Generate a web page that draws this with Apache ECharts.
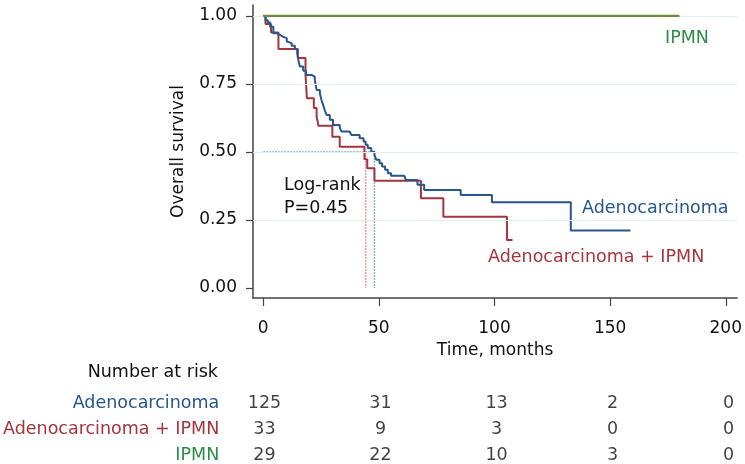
<!DOCTYPE html>
<html><head><meta charset="utf-8">
<script src="https://cdn.jsdelivr.net/npm/echarts@6/dist/echarts.min.js"></script>
<style>html,body{margin:0;padding:0;background:#fff}#c{width:745px;height:464px}</style>
</head><body><div id="c"></div>
<script>
// Kaplan-Meier step points [month, survival]
const adenoKM = [[0,1.000],[1.0,0.984],[2.0,0.976],[3.0,0.960],[4.4,0.936],[5.9,0.930],[7.3,0.924],[8.5,0.918],[10.2,0.906],[10.9,0.900],[12.3,0.890],[13.7,0.878],[14.7,0.863],[15.2,0.838],[15.9,0.814],[17.3,0.798],[18.5,0.783],[20.9,0.777],[22.3,0.765],[23.1,0.728],[24.5,0.716],[25.2,0.691],[25.9,0.673],[26.6,0.654],[27.4,0.636],[28.8,0.618],[30.2,0.599],[33.1,0.590],[33.8,0.575],[37.4,0.569],[38.1,0.5625],[41.7,0.550],[43.4,0.538],[44.3,0.526],[45.2,0.514],[46.7,0.501],[48.1,0.489],[48.9,0.471],[50.3,0.458],[51.4,0.446],[52.7,0.434],[53.9,0.422],[55.3,0.412],[61.0,0.406],[61.7,0.397],[66.7,0.379],[69.6,0.360],[85.4,0.342],[98.9,0.315],[133.0,0.211],[158.8,0.211]];
const adenoIpmnKM = [[0,1.000],[1.0,0.970],[3.4,0.939],[6.6,0.878],[15.0,0.845],[18.3,0.783],[18.9,0.697],[21.9,0.661],[23.1,0.630],[23.9,0.596],[29.9,0.556],[33.1,0.519],[43.8,0.473],[45.0,0.440],[48.1,0.394],[68.2,0.330],[77.9,0.262],[105.4,0.176],[107.8,0.176]];
const ipmnKM = [[0,1.000],[180,1.000]];
const medianAdeno = 48.1;
const medianAdenoIpmn = 44.3;
const yTicks = [0, 0.25, 0.5, 0.75, 1];
const xTicks = [0, 50, 100, 150, 200];
const riskRows = ['Adenocarcinoma', 'Adenocarcinoma + IPMN', 'IPMN'];
const riskAdeno = [125, 31, 13, 2, 0];
const riskAdenoIpmn = [33, 9, 3, 0, 0];
const riskIpmn = [29, 22, 10, 3, 0];

const FONT = 'DejaVu Sans';
const BLUE = '#27568f', RED = '#a5343e', GREEN_LINE = '#6b8e3c', GREEN_TEXT = '#2e8b47';
const rowColors = [BLUE, RED, GREEN_TEXT];

const chart = echarts.init(document.getElementById('c'), null, {renderer: 'canvas'});
const XMIN = -4.4, XMAX = 204.9;

function riskSeries(vals, row) {
  return {
    type: 'scatter', xAxisIndex: 1, yAxisIndex: 1, symbolSize: 0, silent: true,
    data: xTicks.map((t, i) => [t, row, vals[i]]),
    label: {show: true, position: 'inside', formatter: p => String(p.value[2]),
      color: '#111', fontFamily: FONT, fontSize: 17.5}
  };
}

chart.setOption({
  animation: false,
  backgroundColor: '#fff',
  grid: [
    {left: 253, right: 5, top: 5, bottom: 166},
    {left: 253, right: 5, top: 403, height: 52}
  ],
  xAxis: [
    {type: 'value', gridIndex: 0, min: XMIN, max: XMAX,
     axisLine: {show: true, onZero: false, lineStyle: {color: '#444', width: 1.5}},
     axisTick: {show: true, length: 8, customValues: xTicks, lineStyle: {color: '#444', width: 1.2}},
     axisLabel: {show: true, customValues: xTicks, margin: 22, color: '#111', fontFamily: FONT, fontSize: 17},
     splitLine: {show: false},
     name: 'Time, months', nameLocation: 'middle', nameGap: 44,
     nameTextStyle: {color: '#111', fontFamily: FONT, fontSize: 17}},
    {type: 'value', gridIndex: 1, min: XMIN, max: XMAX, show: false}
  ],
  yAxis: [
    {type: 'value', gridIndex: 0, min: -0.037, max: 1.04,
     axisLine: {show: true, onZero: false, lineStyle: {color: '#444', width: 1.5}},
     axisTick: {show: true, length: 7, customValues: yTicks, lineStyle: {color: '#444', width: 1.2}},
     axisLabel: {show: true, customValues: yTicks, margin: 16, formatter: v => Number(v).toFixed(2),
       color: '#111', fontFamily: FONT, fontSize: 17},
     splitLine: {show: false},
     name: 'Overall survival', nameLocation: 'middle', nameGap: 66, nameRotate: 90,
     nameTextStyle: {color: '#111', fontFamily: FONT, fontSize: 17}},
    {type: 'value', gridIndex: 1, min: 0, max: 2, interval: 1, inverse: true,
     axisLine: {show: false}, axisTick: {show: false}, splitLine: {show: false},
     axisLabel: {show: true, margin: 35, fontFamily: FONT, fontSize: 17.5,
       formatter: v => '{r' + v + '|' + riskRows[v] + '}',
       rich: {r0: {color: rowColors[0], fontFamily: FONT, fontSize: 17.5},
              r1: {color: rowColors[1], fontFamily: FONT, fontSize: 17.5},
              r2: {color: rowColors[2], fontFamily: FONT, fontSize: 17.5}}}}
  ],
  series: [
    {type: 'line', name: 'grid', data: [], silent: true, z: 1,
     markLine: {silent: true, symbol: 'none', label: {show: false},
       lineStyle: {color: '#e2eef3', width: 1.2, type: 'solid'},
       data: yTicks.filter(v => v > 0).map(v => ({yAxis: v}))}},
    {type: 'line', name: 'median-h', data: [[0, 0.5], [medianAdeno, 0.5]], showSymbol: false, silent: true, z: 2,
     lineStyle: {color: '#8aa3c6', width: 1.5, type: [2, 1]}},
    {type: 'line', name: 'median-red', data: [[medianAdenoIpmn, 0.5], [medianAdenoIpmn, 0]], showSymbol: false, silent: true, z: 2,
     lineStyle: {color: '#e79aa3', width: 1.5, type: [2, 1]}},
    {type: 'line', name: 'median-blue', data: [[medianAdeno, 0.5], [medianAdeno, 0]], showSymbol: false, silent: true, z: 2,
     lineStyle: {color: '#8fb0d4', width: 1.5, type: [2, 1]}},
    {type: 'line', name: 'Adenocarcinoma + IPMN', data: adenoIpmnKM, step: 'end', showSymbol: false, z: 3,
     itemStyle: {color: RED}, lineStyle: {color: RED, width: 2}},
    {type: 'line', name: 'Adenocarcinoma', data: adenoKM, step: 'end', showSymbol: false, z: 4,
     itemStyle: {color: BLUE}, lineStyle: {color: BLUE, width: 2}},
    {type: 'line', name: 'IPMN', data: ipmnKM, showSymbol: false, z: 5,
     itemStyle: {color: GREEN_LINE}, lineStyle: {color: GREEN_LINE, width: 2.2}},
    riskSeries(riskAdeno, 0),
    riskSeries(riskAdenoIpmn, 1),
    riskSeries(riskIpmn, 2)
  ],
  graphic: [
    {type: 'text', left: 665, top: 29, style: {text: 'IPMN', fill: GREEN_TEXT, font: '17.5px "DejaVu Sans"'}},
    {type: 'text', left: 582, top: 199, style: {text: 'Adenocarcinoma', fill: BLUE, font: '17.5px "DejaVu Sans"'}},
    {type: 'text', left: 488, top: 248, style: {text: 'Adenocarcinoma + IPMN', fill: RED, font: '17.5px "DejaVu Sans"'}},
    {type: 'text', left: 284, top: 174, style: {text: 'Log-rank\nP=0.45', fill: '#111', font: '17.5px "DejaVu Sans"', lineHeight: 23}},
    {type: 'text', right: 745 - 218, top: 363, style: {text: 'Number at risk', fill: '#111', font: '17.5px "DejaVu Sans"'}}
  ]
});
</script></body></html>
